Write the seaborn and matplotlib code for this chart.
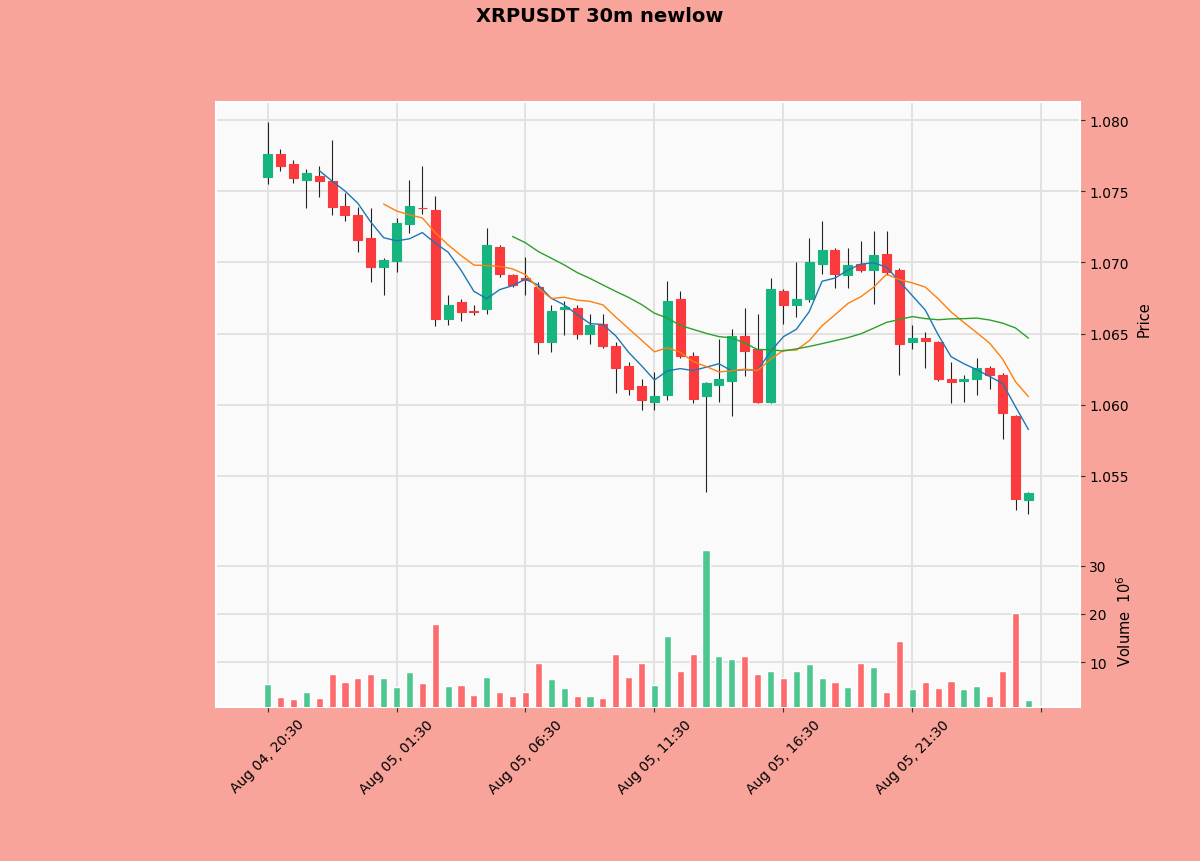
import numpy as np
import pandas as pd
import matplotlib
matplotlib.use("Agg")
import matplotlib.pyplot as plt
import seaborn as sns

chart_title = "XRPUSDT 30m newlow"
start_time = "2023-08-04 20:30"

# OHLC (30m candles)
opens = [1.0760, 1.0776, 1.0769, 1.0758, 1.0761, 1.0757, 1.0740, 1.0733, 1.0717, 1.0697,
         1.0701, 1.0727, 1.07385, 1.0737, 1.0660, 1.0672, 1.0666, 1.0667, 1.0711, 1.0691,
         1.0689, 1.0683, 1.0644, 1.0667, 1.0668, 1.0650, 1.0657, 1.0641, 1.0627, 1.0613,
         1.0602, 1.0607, 1.0674, 1.0634, 1.0606, 1.0614, 1.0617, 1.0648, 1.0639, 1.0602,
         1.0680, 1.0670, 1.0674, 1.0699, 1.0709, 1.0691, 1.0699, 1.0695, 1.0706, 1.0695,
         1.0644, 1.0647, 1.0644, 1.0618, 1.06165, 1.0618, 1.0626, 1.0621, 1.0592, 1.0533]
highs = [1.0799, 1.0780, 1.0772, 1.0766, 1.0768, 1.0786, 1.0749, 1.0739, 1.0738, 1.0703,
         1.0731, 1.0758, 1.0768, 1.0747, 1.0677, 1.0674, 1.0670, 1.0724, 1.0712, 1.0692,
         1.0704, 1.0686, 1.0670, 1.0673, 1.0670, 1.0664, 1.0664, 1.0644, 1.0630, 1.0618,
         1.0623, 1.0687, 1.0680, 1.0637, 1.0616, 1.0646, 1.0653, 1.0668, 1.0664, 1.0689,
         1.0681, 1.0700, 1.0717, 1.0729, 1.0710, 1.0710, 1.0715, 1.0722, 1.0722, 1.0696,
         1.0656, 1.0651, 1.0645, 1.0630, 1.0621, 1.0633, 1.0627, 1.0622, 1.0593, 1.0539]
lows = [1.0755, 1.0764, 1.0756, 1.0738, 1.0746, 1.0733, 1.0729, 1.0707, 1.0686, 1.0677,
        1.0693, 1.0721, 1.0734, 1.0655, 1.0656, 1.0659, 1.0663, 1.0664, 1.0690, 1.0683,
        1.0677, 1.0636, 1.0637, 1.0649, 1.0646, 1.0643, 1.0640, 1.0608, 1.0607, 1.0596,
        1.0596, 1.0603, 1.0633, 1.0601, 1.0539, 1.0602, 1.0592, 1.0620, 1.0601, 1.0601,
        1.0657, 1.0662, 1.0672, 1.0692, 1.0682, 1.0682, 1.0693, 1.0671, 1.0691, 1.0621,
        1.0639, 1.0626, 1.0617, 1.0601, 1.0602, 1.0607, 1.0611, 1.0576, 1.0526, 1.0523]
closes = [1.0776, 1.0768, 1.0759, 1.0763, 1.0757, 1.0739, 1.0733, 1.0716, 1.0697, 1.0702,
          1.0728, 1.0740, 1.0738, 1.0660, 1.0670, 1.0665, 1.06655, 1.0712, 1.0692, 1.0684,
          1.0688, 1.0644, 1.0666, 1.0669, 1.0650, 1.0656, 1.0641, 1.0626, 1.0611, 1.0603,
          1.0606, 1.0673, 1.0634, 1.0604, 1.0615, 1.0618, 1.0648, 1.0638, 1.0602, 1.0681,
          1.0670, 1.0674, 1.0700, 1.0709, 1.0692, 1.0698, 1.0695, 1.0705, 1.0693, 1.0643,
          1.0647, 1.0645, 1.0618, 1.0616, 1.0618, 1.0626, 1.0621, 1.0594, 1.0534, 1.0538]
# volume in millions
volumes = [5.4, 2.8, 2.3, 3.7, 2.5, 7.6, 5.8, 6.6, 7.6, 6.7,
           4.9, 8.0, 5.7, 17.9, 5.1, 5.2, 3.1, 6.9, 3.75, 2.9,
           3.7, 9.7, 6.5, 4.6, 2.9, 2.9, 2.5, 11.6, 6.9, 9.9,
           5.3, 15.5, 8.2, 11.7, 33.3, 11.25, 10.6, 11.25, 7.6, 8.1,
           6.7, 8.1, 9.6, 6.7, 5.8, 4.8, 9.9, 9.0, 3.7, 14.4,
           4.4, 5.8, 4.65, 6.0, 4.4, 5.1, 2.9, 8.1, 20.1, 2.2]
mav_periods = [5, 10, 20]

df = pd.DataFrame({"open": opens, "high": highs, "low": lows,
                   "close": closes, "volume": volumes})
df["idx"] = np.arange(len(df))
df["time"] = pd.date_range(start_time, periods=len(df), freq="30min")
for n in mav_periods:
    df[f"mav{n}"] = df["close"].rolling(n).mean()

bg = "#f9a49a"
up_col, down_col = "#16b47e", "#fa3a3c"
vup_col, vdown_col = "#4dc790", "#fd6b6c"
mav_cols = ["#1f77b4", "#ff7f0e", "#2ca02c"]

sns.set_theme(style="whitegrid", rc={
    "axes.facecolor": "#fafafa",
    "axes.edgecolor": "white",
    "axes.linewidth": 1.5,
    "grid.color": "#e2e2e2",
    "grid.linewidth": 1.4,
    "figure.facecolor": bg,
    "text.color": "black",
    "axes.labelcolor": "black",
})
plt.rcParams["font.family"] = ["DejaVu Sans"]

fig = plt.figure(figsize=(12, 8.62), dpi=100, facecolor=bg)
ax_p = fig.add_axes([0.18, 0.3794, 0.72, 0.5012])
ax_v = fig.add_axes([0.18, 0.1787, 0.72, 0.2007], sharex=ax_p)

# candles
is_up = df["close"] >= df["open"]
body_col = np.where(is_up, up_col, down_col)
ax_p.vlines(df["idx"], df["low"], df["high"], color="#222222", lw=0.8, zorder=2)
bottoms = df[["open", "close"]].min(axis=1)
heights = (df["close"] - df["open"]).abs()
ax_p.bar(df["idx"], heights, bottom=bottoms, width=0.7, color=body_col,
         edgecolor=body_col, linewidth=0.8, zorder=3)

# moving averages
for n, c in zip(mav_periods, mav_cols):
    sub = df.dropna(subset=[f"mav{n}"])
    sns.lineplot(data=sub, x="idx", y=f"mav{n}", ax=ax_p, color=c, lw=1.0, zorder=4)

# volume
vol_col = np.where(is_up, vup_col, vdown_col)
ax_v.bar(df["idx"], df["volume"], width=0.55, color=vol_col, zorder=3)

# limits like mplfinance
pad = 0.05 * (df["high"].max() - df["low"].min())
ax_p.set_ylim(df["low"].min() - pad, df["high"].max() + pad)
ax_v.set_ylim(0.3 * df["volume"].min(), 1.1 * df["volume"].max())
ax_p.set_xlim(-4.0, 63.0)

tick_pos = list(range(0, len(df) + 1, 10))
tick_lab = [df["time"][i].strftime("%b %d, %H:%M") if i < len(df) else "" for i in tick_pos]
ax_v.set_xticks(tick_pos)
ax_v.set_xticklabels(tick_lab, rotation=45, fontsize=10)
plt.setp(ax_p.get_xticklabels(), visible=False)

ax_p.set_yticks(np.arange(1.055, 1.0801, 0.005))
ax_p.set_yticklabels([f"{v:.3f}" for v in np.arange(1.055, 1.0801, 0.005)])
ax_v.set_yticks([10, 20, 30])

for ax in (ax_p, ax_v):
    ax.yaxis.tick_right()
    ax.yaxis.set_label_position("right")
    ax.tick_params(axis="y", right=True, left=False, length=3.5, width=0.8,
                   color="#333333", labelsize=10, labelcolor="black", pad=3)
    ax.tick_params(axis="x", bottom=True, length=3.5, width=0.8,
                   color="#333333", labelsize=10, labelcolor="black")
    ax.set_xlabel("")
    ax.grid(True, zorder=0)
    ax.set_axisbelow(True)

# no visible seam between the two panels
ax_p.spines["bottom"].set_visible(False)
ax_v.spines["top"].set_visible(False)

ax_p.set_ylabel("Price", fontsize=10.5, labelpad=6)
ax_v.set_ylabel("Volume  $10^{6}$", fontsize=10.5, labelpad=6)

fig.suptitle(chart_title, y=0.981, va="center", fontsize=14, fontweight="bold")

fig.savefig("out.png", dpi=100, facecolor=bg)
